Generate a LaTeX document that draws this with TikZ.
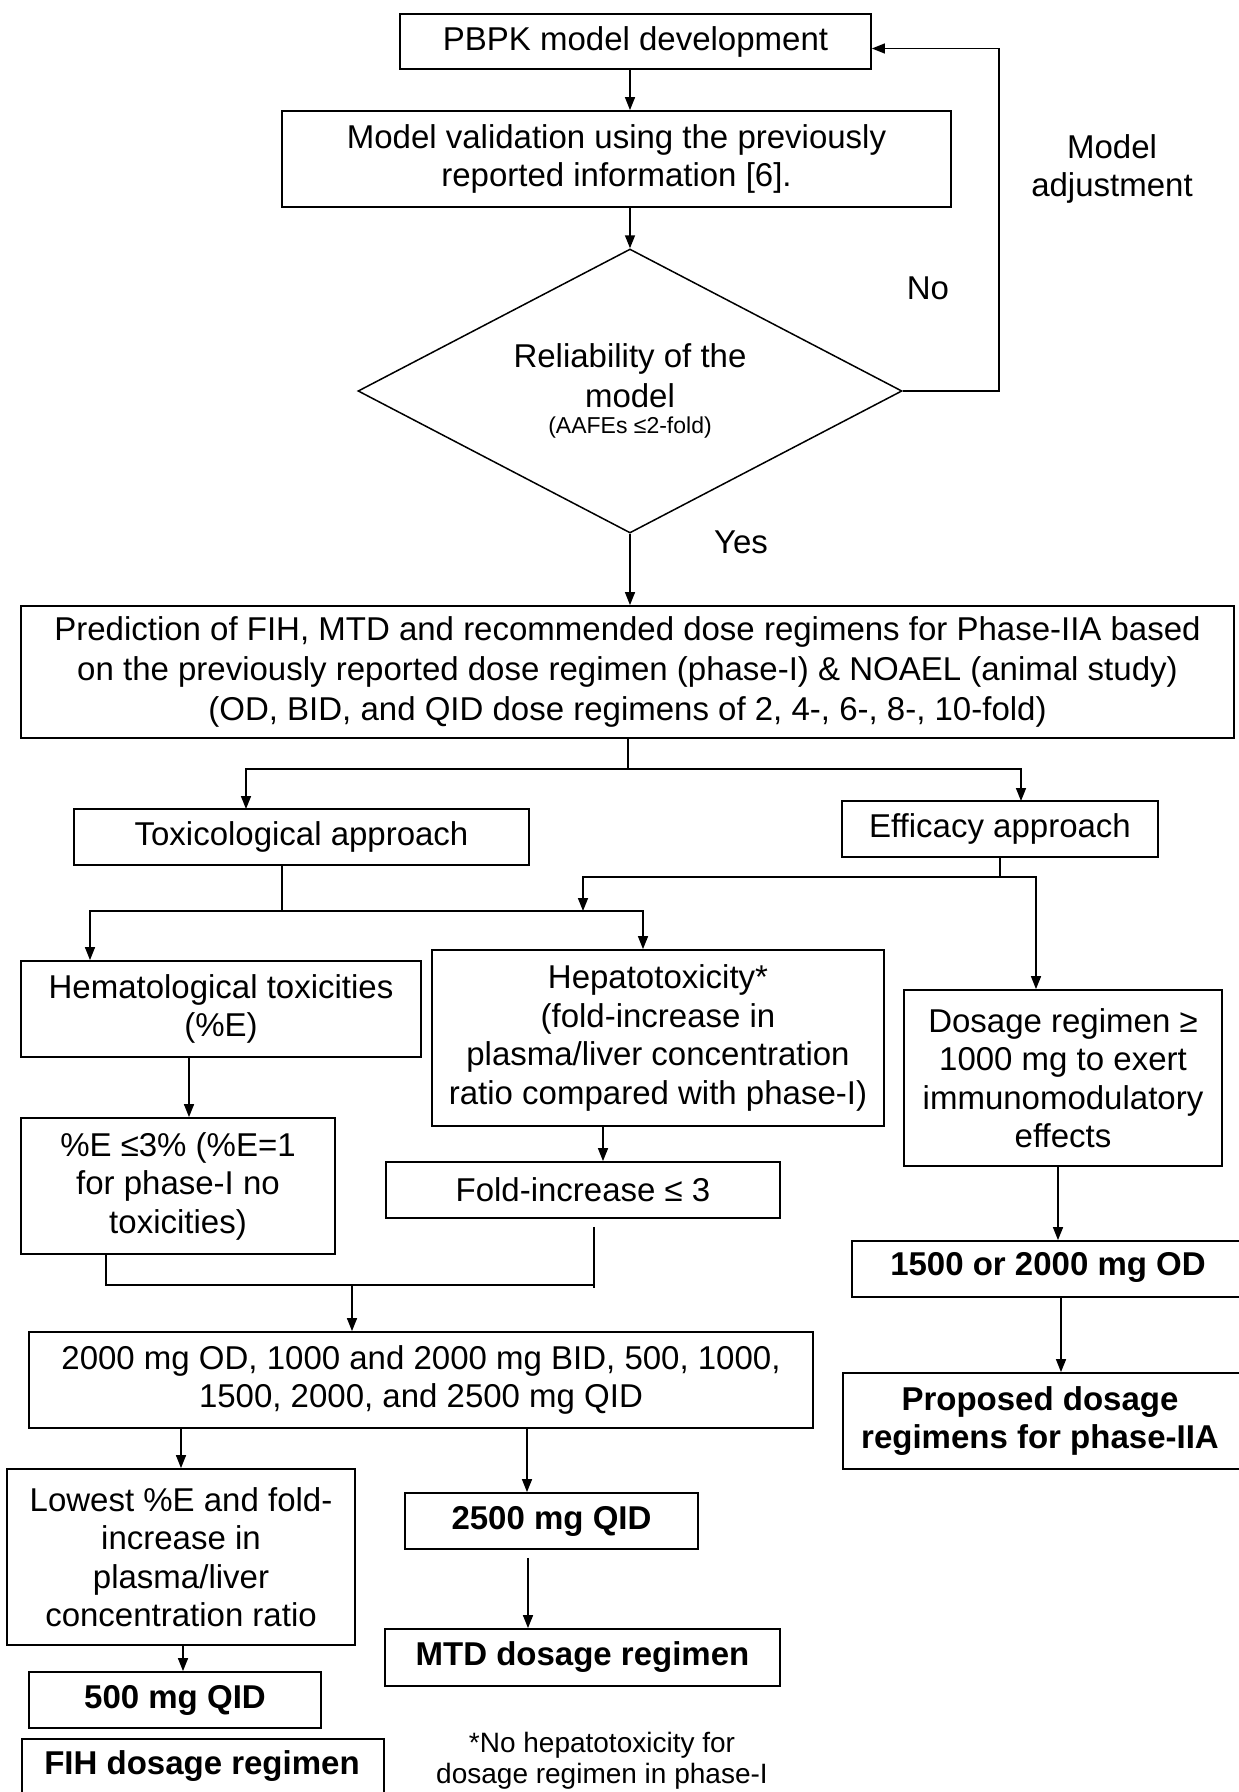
\documentclass[tikz,border=0pt]{standalone}
\usepackage{fontspec}
\setmainfont{Liberation Sans}
\usetikzlibrary{arrows.meta,shapes.geometric}
\begin{document}
\begin{tikzpicture}[x=1pt,y=-1pt,
  box/.style={draw,line width=1.8pt,align=center,inner sep=0pt,font=\fontsize{33}{38.5}\selectfont},
  bbox/.style={box,font=\fontsize{33}{38.5}\selectfont\bfseries},
  con/.style={line width=1.5pt},
  arr/.style={con,-{Triangle[length=13pt,width=10pt]}},
  lbl/.style={align=center,inner sep=0pt,font=\fontsize{33}{38.5}\selectfont}]
\useasboundingbox (0,0) rectangle (1239,1792);
\begin{scope}
\clip (0,0) rectangle (1239,1792);
% nodes
\node[box,minimum width=471,minimum height=55] (pbpk) at (635.5,41.5) {PBPK model development};
\node[box,minimum width=669,minimum height=96] (valid) at (616.5,159) {Model validation using the previously\\reported information [6].};
\node[draw,diamond,aspect=1.9,line width=1.5pt,minimum width=544,minimum height=284,inner sep=0pt,align=center,font=\fontsize{33}{40}\selectfont] (rel) at (630,391) {Reliability of the\\model\\[-14pt]{\fontsize{23}{26}\selectfont (AAFEs ≤2-fold)}};
\node[box,minimum width=1213,minimum height=132,font=\fontsize{33}{40}\selectfont] (pred) at (627.5,672) {Prediction of FIH, MTD and recommended dose regimens for Phase-IIA based\\on the previously reported dose regimen (phase-I) \& NOAEL (animal study)\\(OD, BID, and QID dose regimens of 2, 4-, 6-, 8-, 10-fold)};
\node[box,minimum width=455,minimum height=56] (tox) at (301.5,837) {Toxicological approach};
\node[box,minimum width=316,minimum height=56] (eff) at (1000,829) {Efficacy approach};
\node[box,minimum width=400,minimum height=96] (hema) at (221,1009) {Hematological toxicities\\(\%E)};
\node[box,minimum width=452,minimum height=176] (hep) at (658,1038) {Hepatotoxicity*\\(fold-increase in\\plasma/liver concentration\\ratio compared with phase-I)};
\node[box,minimum width=318,minimum height=176] (dos) at (1063,1078) {Dosage regimen ≥\\1000 mg to exert\\immunomodulatory\\effects};
\node[box,minimum width=314,minimum height=136] (pe) at (178,1186) {\%E ≤3\% (\%E=1\\for phase-I no\\toxicities)};
\node[box,minimum width=394,minimum height=56] (fold) at (583,1190) {Fold-increase ≤ 3};
\node[box,minimum width=784,minimum height=96] (mix) at (421,1380) {2000 mg OD, 1000 and 2000 mg BID, 500, 1000,\\1500, 2000, and 2500 mg QID};
\node[box,minimum width=348,minimum height=176] (low) at (181,1557) {Lowest \%E and fold-\\increase in\\plasma/liver\\concentration ratio};
\node[bbox,minimum width=293,minimum height=56] (q25) at (551.5,1521) {2500 mg QID};
\node[bbox,minimum width=395,minimum height=57] (mtd) at (582.5,1657.5) {MTD dosage regimen};
\node[bbox,minimum width=292,minimum height=56] (q5) at (175,1700) {500 mg QID};
\node[bbox,minimum width=362,minimum height=80,anchor=north west] (fih) at (21,1738) {};
\node[lbl,font=\fontsize{33}{38.5}\selectfont\bfseries] (fiht) at (202,1766) {FIH dosage regimen};
\node[bbox,minimum width=410,minimum height=56,anchor=west] (od) at (851,1269) {};
\node[lbl,font=\fontsize{33}{38.5}\selectfont\bfseries] (odt) at (1048,1267) {1500 or 2000 mg OD};
\node[bbox,minimum width=410,minimum height=96,anchor=west] (prop) at (842,1421) {};
\node[lbl,font=\fontsize{33}{38.5}\selectfont\bfseries] (propt) at (1040,1421) {Proposed dosage\\regimens for phase-IIA};
\node[lbl,font=\fontsize{28}{31}\selectfont] (foot) at (602,1761) {*No hepatotoxicity for\\dosage regimen in phase-I};
\node[lbl] (adj) at (1112,169) {Model\\adjustment};
\node[lbl] (no) at (928,288) {No};
\node[lbl] (yes) at (741,542) {Yes};
% connectors
\draw[arr] (pbpk.south -| rel) -- (valid.north -| rel);
\draw[arr] (valid.south -| rel) -- (rel.north);
\coordinate (fb) at (999,391);
\draw[arr] (rel.east) -- (fb) |- ([yshift=-7pt]pbpk.east);
\draw[arr] (rel.south) -- (pred.north -| rel);
\coordinate (s1) at (628,769);
\draw[con] (pred.south -| s1) -- (s1);
\draw[arr] (s1) -| (246,809);
\draw[arr] (s1) -| (1021,801);
\coordinate (s2) at (282,911);
\draw[con] (tox.south -| s2) -- (s2);
\draw[arr] (s2) -| (hema.north -| 90,0);
\draw[arr] (s2) -| (hep.north -| 643,0);
\coordinate (s3) at (1000,877);
\draw[con] (eff.south) -- (s3);
\draw[arr] (s3) -| (583,911);
\draw[arr] (s3) -| (dos.north -| 1036,0);
\draw[arr] (hema.south -| 189,0) -- (pe.north -| 189,0);
\draw[arr] (hep.south -| 603,0) -- (fold.north -| 603,0);
\coordinate (m1) at (106,1285);
\coordinate (m2) at (594,1285);
\draw[con] (pe.south -| m1) -- (m1) -- (m2);
\draw[con] ([yshift=-8pt]fold.south -| m2) -- ([yshift=-3pt]m2);
\draw[arr] (352,1285) -- (mix.north -| 352,0);
\draw[arr] (mix.south -| 181,0) -- (low.north -| 181,0);
\draw[arr] (mix.south -| 527,0) -- (q25.north -| 527,0);
\draw[arr] ([yshift=-8pt]q25.south -| 528,0) -- (mtd.north -| 528,0);
\draw[arr] (low.south -| 183,0) -- (q5.north -| 183,0);
\draw[arr] (dos.south -| 1058,0) -- (od.north -| 1058,0);
\draw[arr] (od.south -| 1061,0) -- (prop.north -| 1061,0);
\end{scope}
\end{tikzpicture}
\end{document}
